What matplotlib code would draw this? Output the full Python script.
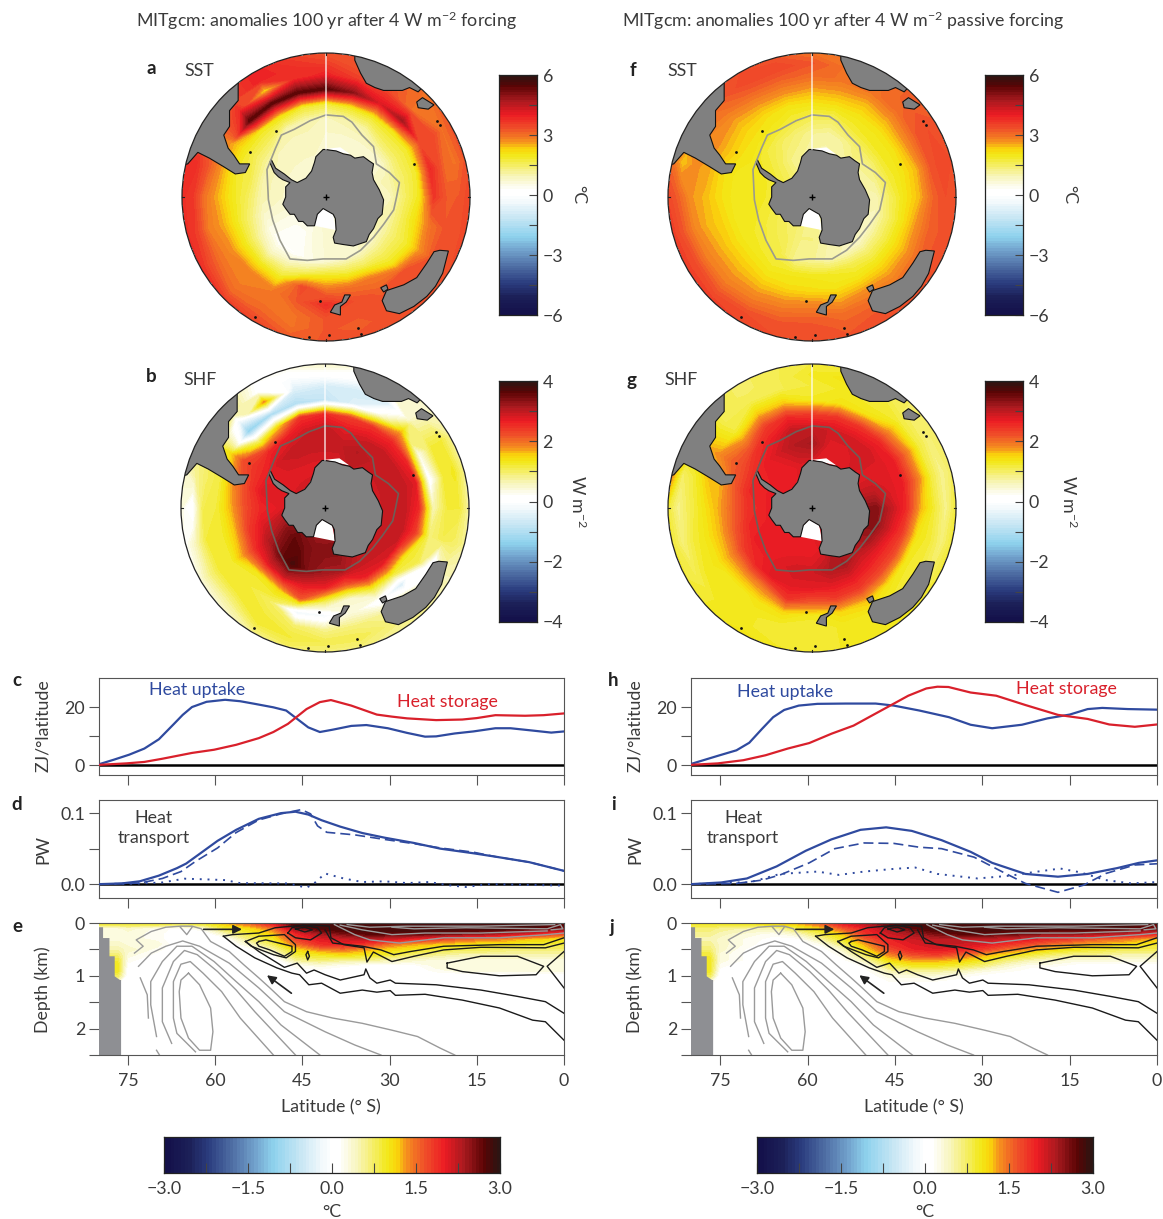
import numpy as np
import matplotlib
matplotlib.use("Agg")
import matplotlib.pyplot as plt
from matplotlib.colors import LinearSegmentedColormap
from matplotlib.patches import Circle, Polygon

plt.rcParams['font.family'] = ['Lato', 'DejaVu Sans']
plt.rcParams['mathtext.fontset'] = 'custom'
plt.rcParams['mathtext.rm'] = 'Lato'
plt.rcParams['mathtext.default'] = 'regular'

# ------------------------------ line data (latitude, value)
c_up_lat = [80,77.4,74.8,72.2,69.7,67.1,65.6,64,61.5,58.3,55.7,53.2,50,47.8,45.9,44,42,39.8,36.6,34,30.3,27,23.9,22,18.8,15.6,11.8,9.2,5.4,2.2,0]
c_up_val = [.3,1.9,3.6,5.7,8.9,14.2,17.3,20,21.8,22.5,22,21.1,19.9,18.8,15.9,13,11.4,12.2,13.5,13.8,12.7,11.1,9.8,9.9,10.9,11.6,12.7,12.7,11.9,11.2,11.6]
c_st_lat = [80,75.3,72.2,69.1,64,60.2,56.4,52.5,50,47.5,44.3,42,40.1,36.6,32.2,29.6,27,22,17.5,15,11.8,6.7,3.5,0]
c_st_val = [.1,.6,1.1,2.2,4.2,5.3,7,9.3,11.4,14.2,19.3,21.7,22.4,20.5,17.4,16.7,16.1,15.5,15.7,16.2,17.2,17,17.2,17.8]

d_so_lat = [80,76.1,73,69.7,66.6,65,62.8,59.6,56.4,52.5,48.7,46.2,44,41.7,38.5,34.7,30.9,25.8,21.3,15.6,11.8,6,0]
d_so_val = [0,.001,.004,.012,.0225,.029,.042,.061,.0765,.092,.1,.102,.098,.09,.081,.072,.0655,.058,.05,.0435,.0387,.031,.0187]
d_da_lat = [80,73,69.1,65.9,63.4,59.6,56.4,52.5,48.7,45.2,43.6,42.4,40.8,36,30.9,25.8,21.3,15.6,11.8,6,0]
d_da_val = [0,.0015,.008,.0177,.032,.051,.0727,.0904,.099,.105,.099,.082,.073,.0694,.063,.057,.051,.045,.0387,.031,.0187]
d_do_lat = [80,73,69.1,65.3,61.5,58.3,55.7,47.4,44.3,43,41.1,37.9,34.7,30.9,27,23.2,20,16.9,13,0]
d_do_val = [0,.001,.0024,.0077,.0067,.0057,.0014,.001,-.005,.001,.015,.008,.003,.004,.0015,.003,-.0014,-.004,0,-.002]

h_up_lat = [80,75.4,72.2,70,67.8,65.9,64,61.5,58.3,53.4,48.3,45.2,40.8,35.7,32,28.3,23.2,18.8,15,11.9,9.4,5,0]
h_up_val = [.4,3.2,5.1,7.7,12.5,16.5,19,20.5,21.1,21.2,21.2,20.5,18.8,16.5,13.9,12.7,13.9,16.1,17.4,19.3,19.7,19.3,19.1]
h_st_lat = [80,75.4,71,67.2,63.4,59.7,55.9,52.1,49,45.8,42.7,39.6,37.7,35.8,32,27.6,22.6,17,11.9,8.2,3.8,0]
h_st_val = [.1,.6,1.7,3.4,5.7,7.6,10.8,13.6,17,20.5,23.9,26.4,27,26.9,25,23.9,20.7,17.3,15.9,14,13.2,14]

i_so_lat = [80,74.8,70.4,65.3,60.3,55.9,50.9,46.5,42.1,37,32,28.3,22.6,17,11.9,6.9,3.1,0]
i_so_val = [0,.0024,.008,.025,.047,.063,.0765,.08,.075,.062,.0455,.03,.0144,.0105,.0144,.0225,.03,.0335]
i_da_lat = [80,72.2,67.8,64.7,59.7,55.3,50.3,45.2,40.8,37,31.4,26.4,22.6,17,12.6,8.8,3.8,0]
i_da_val = [0,.001,.0057,.013,.03,.05,.058,.0574,.052,.05,.038,.0167,.001,-.0115,-.0014,.015,.027,.0287]
i_do_lat = [80,69.7,64.7,58.3,54.6,50.3,45.2,41.5,37.7,30.8,25.1,21.4,16.6,13.2,8.8,4.4,0]
i_do_val = [0,.003,.0144,.0177,.013,.0177,.0215,.0234,.0144,.008,.012,.0167,.022,.0167,.0057,.001,.003]

lat_ticks = [75, 60, 45, 30, 15, 0]

# ------------------------------ polar fields: columns are the radii, rows the bearing
map_radii = [.3,.45,.55,.65,.75,.85,.93,1.0]
map_bearings = list(range(0, 360, 15))
sst_a = [[.8,.8,.9,1.8,5.5,4.0,3.6,3.3],[.8,.8,1.0,2.0,5.0,3.6,3.3,3.3],[.8,.8,1.1,2.0,4.2,3.5,3.3,3.2],
 [.8,.8,1.5,2.0,4.8,3.0,3,3],[.8,.8,1.5,1.9,3.4,3.5,3,3.3],[.8,1,1.5,1.9,3.9,3.1,3,3.3],
 [.8,.9,1.5,2,3.7,3.2,3.3,3.5],[.8,1,1.6,2.2,3,3.3,3.3,3.5],[.8,1,1.5,1.9,2.7,3.3,3.3,3.4],
 [.8,.9,1.5,2,3.4,3.3,3.3,3.4],[.8,.8,1.6,2.9,3.2,3.4,3.4,3.4],[.8,.8,1.8,3,3.4,3.3,3.2,3.4],
 [.7,.7,2,3,3.8,3.3,3.3,3.3],[.6,.5,1.6,3.5,3.3,3,3,3.2],[.4,.3,1.1,2,2.9,3,3.2,3.5],
 [.4,.3,.9,2,2.9,2.9,3.1,3.6],[.5,.5,1.2,2,2.7,3,3.4,3.8],[.7,.8,1.4,2,2.6,2.9,3.6,3.8],
 [.8,1,1.6,2,2.5,3,3.7,3.8],[.8,1,1.7,1.9,2.6,3.3,3.8,3.8],[.8,1,1.5,2,2.6,3,3,3],
 [.8,.9,1.5,2,5.5,3.8,3.5,3.5],[.8,.9,1,2.2,5.5,2.2,4,4],[.8,.9,1,1.9,5.5,3.8,3.8,3.6]]
shf_b = [[2.8,3,3,2.6,-.8,-.6,.1,.5],[2.8,3,2.8,2.4,-.5,-.6,0,.3],[3,3.1,2.9,2.5,.3,-.6,.5,.8],
 [3,3,3,2.6,1.6,.6,.5,.5],[2.8,3,3,2.6,.3,1.2,1.2,.8],[2.8,3,3,2.8,0,1.2,1.3,.8],
 [2.8,3,3,2.6,.6,1.2,1.2,.7],[2.8,3,3,2.4,.9,1.1,1,.8],[3,3,2.9,1.3,1.1,-.5,.6,.6],
 [3,3,2.8,1.3,-.6,.8,.8,.8],[3.2,3,2.7,1.2,0,.8,.9,.8],[3.4,3.2,2.2,.5,.4,.9,1.1,.9],
 [3.4,3.2,2.7,1.0,-.2,.8,1.1,.9],[3.4,3.4,2.8,2.2,-.3,1,1.2,1],[3.5,3.8,3,1.5,1,1.2,1.2,.8],
 [3.6,3.5,2.8,1.3,1.2,1.2,.8,.5],[3.4,3.1,2.6,1.8,1.2,1.2,.8,.4],[3.1,2.8,2.4,1.6,1.2,1.2,.6,.2],
 [2.8,2.6,2.3,1.7,1.2,1.1,-.1,.4],[2.8,2.8,2.4,1.9,1.2,1,.8,.5],[2.8,2.7,2.5,2.3,1.5,1.2,1,1],
 [2.8,2.9,2.6,1.0,-1.4,-.2,1,1],[2.8,3,2.7,1.5,-1.2,1.8,.1,.2],[2.8,3,2.9,2.5,-1,-.5,-.1,.3]]
sst_f = [[1,1.2,1.6,2.1,2.6,3.1,3.3,3.0],[1,1.1,1.5,2.1,2.6,3,3,3.0],[1,1.2,1.8,2.1,2.5,3,3,3],
 [1.1,1.4,1.9,2.1,2.6,3.1,3.2,3.2],[1,1.3,1.9,2.1,2.7,3.3,3.4,3.3],[1,1.2,1.8,2.1,2.5,3.3,3.5,3.4],
 [1,1,1.6,2.1,2.5,3.2,3.4,3.4],[1,.9,1.5,2.1,2.7,3.2,3.3,3.4],[.9,.9,1.5,2.1,2.6,3.1,3.3,3.3],
 [.9,.8,1.5,2.1,2.6,3,3.3,3.3],[1,.9,1.7,2.1,2.7,3.1,3.3,3.3],[1.1,1,1.9,2.1,2.6,3.1,3.2,3.3],
 [1.3,1.2,2,2.2,2.8,3.2,3.4,3.3],[1.3,1.2,2,2.2,2.7,3.1,3.4,3.4],[1.5,1.7,1.9,2.2,2.6,3,3.4,3.5],
 [1.6,1.8,2,2.3,2.6,2.9,3.3,3.6],[1.7,1.9,2,2.3,2.6,2.9,3.4,3.6],[1.8,2,2,2.3,2.5,2.8,3.3,3.6],
 [1.9,2,2,2.2,2.5,2.7,3.2,3.5],[1.9,2,2,2.2,2.6,2.7,2.4,3.0],[1.8,2,2.1,2.4,2.7,2.8,2.8,2.8],
 [1.6,1.8,2.1,2.3,2.6,3,3.2,3.2],[1.3,1.6,2,2.2,2.7,3.2,3.5,3.4],[1.2,1.4,1.8,2.1,2.7,3.2,3.5,3.3]]
shf_g = [[2.8,3.2,3,2.4,1.3,1.2,1.3,1.2],[2.8,2.8,2.9,2.5,1.4,1.3,1.4,1.2],[2.8,2.8,2.9,2.5,1.4,1.2,1.2,1.2],
 [2.8,2.9,2.9,2.6,1.8,1.2,1,1],[2.8,2.8,2.8,2.7,2.0,1.2,.9,1],[3,3,2.8,2.7,2.0,1.2,.8,1],
 [3.3,3.4,3,2.6,1.7,1.2,.8,1.2],[3.4,3.4,2.9,2.4,1.4,1.2,.9,1.2],[3.3,3.2,2.7,2.3,1.3,1.2,1,1.2],
 [3.2,3,2.7,2.3,1.4,1.2,1.2,1.3],[3.1,3.2,2.8,2.4,1.6,1.3,1.3,1.3],[2.8,3.1,2.8,2.4,1.5,1.3,1.3,1.3],
 [2.7,2.9,2.8,2.2,1.3,1.2,1.2,1.2],[2.7,2.9,2.8,2.5,1.5,1.2,1.2,1.3],[2.7,2.8,2.8,1.9,1.4,1.3,1.3,1.4],
 [2.7,2.7,2.6,1.8,1.3,1.3,1.3,1.3],[2.7,2.7,2.4,1.8,1.4,1.3,1.1,1.2],[2.7,2.6,2.2,1.7,1.4,1.2,.9,1.2],
 [2.7,2.5,2.1,1.7,1.4,1.1,.8,1.2],[2.7,2.6,2.2,1.7,1.6,1.2,1.0,1.9],[2.7,2.6,2.3,2.1,1.8,1.7,1.7,1.7],
 [2.7,2.7,2.5,1.9,1.2,1.1,1.1,1.1],[2.7,2.9,2.7,2.4,1.6,1.1,1,1],[2.8,3.1,3,2.6,1.6,1.1,1.1,1.1]]

# ------------------------------ map outlines, in units of the map radius
land_antarctica = [(0,.33),(.03,.325),(.07,.32),(.12,.30),(.17,.29),(.20,.27),(.26,.28),(.30,.25),(.33,.23),(.32,.17),(.33,.12),(.37,.05),(.40,-.02),(.39,-.12),(.36,-.15),(.33,-.22),(.30,-.26),(.28,-.31),(.19,-.34),
 (.12,-.33),(.06,-.32),(.05,-.28),(.07,-.23),(.065,-.15),(.05,-.12),(-.02,-.08),(-.06,-.12),(-.07,-.16),(-.08,-.20),(-.13,-.20),(-.16,-.17),(-.19,-.17),(-.22,-.12),(-.25,-.12),(-.28,-.08),(-.30,-.05),
 (-.28,.0),(-.28,.07),(-.25,.10),(-.30,.12),(-.33,.14),(-.36,.17),(-.39,.24),(-.38,.26),(-.35,.20),(-.29,.16),(-.24,.12),(-.20,.10),(-.14,.13),(-.10,.18),(-.08,.24),(-.07,.28),(-.02,.33)]
land_samerica = [(-.61,.78),(-.61,.67),(-.67,.60),(-.67,.49),(-.71,.43),(-.68,.34),(-.64,.29),(-.60,.23),(-.53,.23),(-.56,.17),(-.63,.16),(-.71,.21),
 (-.81,.27),(-.89,.31),(-.96,.23),(-1.1,.2),(-1.1,1.0),(-.61,1.0)]
land_africa = [(.20,.95),(.24,.86),(.28,.79),(.34,.76),(.40,.74),(.53,.74),(.58,.76),(.64,.73),(.75,.85),(.4,1.1),(.2,1.05)]
land_madagascar = [(.63,.66),(.67,.69),(.75,.64),(.71,.61),(.64,.62)]
land_australia = [(.79,-.37),(.85,-.375),(.81,-.53),(.76,-.62),(.70,-.69),(.61,-.76),(.51,-.81),(.42,-.79),(.39,-.72),(.42,-.65),(.54,-.61),(.63,-.56),(.70,-.46),(.75,-.38)]
land_tasmania = [(.38,-.63),(.42,-.61),(.43,-.64),(.40,-.66)]
land_newzealand = [(.13,-.68),(.17,-.68),(.14,-.73),(.10,-.76),(.10,-.82),(.03,-.80),(.06,-.75),(.11,-.73)]
ice_ross = [(-.02,-.08),(.05,-.12),(.07,-.23),(.02,-.22),(-.08,-.20),(-.07,-.13)]
ice_weddell = [(-.16,.12),(-.10,.15),(-.09,.20),(-.13,.14)]
ice_north = [(0,.335),(.17,.295),(.1,.345)]
islands_x = [-.04,.22,.24,.02,-.12,.61,-.53,-.35,.77,.79,-.49]
islands_y = [-.72,-.91,-.95,-.96,-.97,.23,.31,.46,.53,.50,-.83]
sea_ice_edge = [(0,.57),(.12,.56),(.18,.52),(.25,.43),(.33,.35),(.35,.23),(.44,.17),(.51,.10),(.49,0),(.47,-.09),(.40,-.19),(.33,-.28),(.24,-.37),
 (.14,-.43),(-.02,-.43),(-.13,-.44),(-.25,-.43),(-.32,-.30),(-.37,-.16),(-.40,-.02),(-.41,.19),(-.35,.34),(-.31,.43),(-.22,.47),(-.11,.53),(0,.57)]

# ------------------------------ section panels e and j
sec_lat = [76.8,75,70,66,62,58,54,50,46,42,38,34,30,26,22,18,14,10,6,2,0]
sec_depth = [.02,.1,.2,.3,.4,.5,.6,.7,.8,.9,1.0,1.2]
sec_e = [[.9,.9,.9,.8,.9,1.2,1.5,2.0,2.9,2.9,2.9,2.9,2.9,2.9,2.9,2.9,2.9,2.9,2.9,2.8,2.8],
 [.3,.4,.2,.1,.3,.9,1.1,1.5,2.5,2.8,2.9,2.9,2.9,2.9,2.9,2.9,2.9,2.9,2.8,2.7,2.6],
 [.3,.3,.2,0,0,.5,.9,1.2,2.0,2.4,2.6,2.75,2.75,2.75,2.7,2.6,2.5,2.3,2.1,1.8,1.7],
 [.3,.3,.2,0,0,.1,.7,1.0,1.8,2.1,2.2,2.3,2.2,2.0,1.8,1.6,1.5,1.4,1.2,1.1,1.0],
 [.4,.3,.3,0,0,0,.4,.8,1.5,1.9,2.0,1.8,1.5,1.3,1.2,1.1,1,1,.9,.9,.9],
 [.5,.4,.2,0,0,0,.1,.5,1.1,1.4,1.5,1.3,1.1,1,.9,.8,.8,.7,.7,.7,.7],
 [.7,.3,.1,0,0,0,0,.2,.9,1.0,1.1,1.0,.9,.7,.6,.5,.5,.5,.5,.5,.5],
 [.9,.2,0,0,0,0,0,0,.6,.7,.6,.6,.5,.4,.3,.3,.3,.3,.3,.3,.3],
 [1,.1,0,0,0,0,0,0,.2,.3,.2,.1,.1,.1,.3,.3,.3,.3,.3,.3,.3],
 [1,0,0,0,0,0,0,0,.1,.1,0,0,0,0,.2,.3,.3,.3,.3,.3,.3],
 [.8,0,0,0,0,0,0,0,0,0,0,0,0,0,0,0,0,0,0,0,0],
 [0,0,0,0,0,0,0,0,0,0,0,0,0,0,0,0,0,0,0,0,0]]
sec_j = [[1.0,1.0,1.0,1.1,1.2,1.5,2.0,2.3,2.7,2.9,2.9,2.9,2.9,2.9,2.9,2.9,2.9,2.9,2.9,2.8,2.7],
 [.7,.6,.5,.5,.8,1.1,1.6,2.0,2.4,2.7,2.9,2.9,2.9,2.9,2.9,2.9,2.9,2.85,2.8,2.7,2.6],
 [.6,.5,.3,.2,.4,.8,1.2,1.9,2.2,2.4,2.6,2.75,2.75,2.7,2.6,2.5,2.5,2.4,2.3,2.1,2],
 [.5,.4,.2,.1,.1,.5,1.0,1.6,2.0,2.2,2.3,2.3,2.3,2.2,2.1,1.9,1.8,1.6,1.5,1.3,1.2],
 [.6,.4,.2,0,0,.2,.7,1.3,1.9,2.1,2.2,2.2,2.1,1.9,1.7,1.5,1.3,1.2,1.1,1,1],
 [.7,.4,.1,0,0,0,.4,1.1,1.7,2,2.1,2,1.8,1.5,1.3,1.1,1,.9,.8,.8,.8],
 [.9,.3,.1,0,0,0,.2,.8,1.4,1.7,1.8,1.6,1.3,1.1,.9,.7,.6,.6,.5,.5,.5],
 [1,.3,.1,0,0,0,.1,.5,1.1,1.3,1.3,1.2,1,.7,.5,.4,.3,.3,.3,.3,.3],
 [1,.2,0,0,0,0,0,.2,.8,1,1,.9,.7,.4,.2,.2,.1,.1,.1,.1,.1],
 [1,.1,0,0,0,0,0,.1,.5,.6,.6,.5,.3,.2,.1,0,0,0,0,0,0],
 [.8,0,0,0,0,0,0,0,.3,.3,.3,.2,.1,0,0,0,0,0,0,0,0],
 [0,0,0,0,0,0,0,0,0,0,0,0,0,0,0,0,0,0,0,0,0]]
seafloor_lat = [80,80,79.3,79.3,78.2,78.2,77.3,77.3,76.4,76.2,76.2,80]
seafloor_depth = [2.5,.08,.08,.285,.285,.63,.63,1.01,1.08,1.08,2.5,2.5]

grey_lines = [
 [(73.9,.57),(72.4,.44),(73.6,.32),(71,.16),(68.5,.08),(65.9,.06),(64,.06),(62.4,.11),(60.8,.35),(57.6,.54),(55.1,.79),(52.5,1.04),(50.6,1.23),(48.1,1.49),(44.3,1.68),(39.8,1.80),(34.7,1.90),(29.6,2.03),(25.2,2.15),(21.3,2.37),(18.8,2.5)],
 [(66,.08),(64.9,.22),(64,.08)],
 [(73.2,.82),(71,.57),(68.5,.44),(65.6,.34),(62.7,.44),(57.6,.76),(52.5,1.23),(48.1,1.68),(41.1,2.06),(36,2.31),(31.5,2.5)],
 [(70.1,2.15),(71.1,1.55),(71.1,1.11),(69.1,.73),(66.6,.44),(64,.44),(60.2,.73),(56.4,1.11),(52.5,1.49),(48.7,1.93),(42,2.5)],
 [(67.5,2.28),(69.1,1.87),(69.1,1.23),(67.2,.73),(65.3,.52),(63.1,.60),(59.6,.92),(56.4,1.27),(53.2,1.68),(46.2,2.5)],
 [(63.4,2.44),(66.6,2.09),(67.2,1.80),(67.2,1.11),(65.9,.78),(64.3,.73),(62.1,.95),(58.9,1.30),(55.7,1.80),(50,2.5)],
 [(64.6,.95),(65.9,1.08),(66.2,1.30),(65.9,1.80),(64.6,2.18),(62.7,2.41),(60.8,2.41),(60.4,2.06),(60.8,1.61),(62.7,1.17),(64.6,.95)],
 [(72.9,1.04),(71.7,1.36),(71.5,1.80)],
 [(70.1,2.41),(69.6,2.5)],
 [(39.5,.03),(36,.22),(33.4,.32),(28.3,.38),(20.7,.28),(11.1,.28),(2.9,.22),(0,.19)],
 [(38.5,.04),(34.7,.13),(29.6,.22),(23.9,.19),(14.3,.19),(2.9,.15)],
 [(29.6,.08),(25.8,.11),(16.9,.09),(2.9,.11),(.6,.03),(.2,.11),(2.2,.13)],
 [(37.3,.03),(33.4,.08),(27,.06),(14.3,.06),(1.6,.03)],
]
black_lines = [
 [(58.6,.25),(56.4,.44),(53.2,.66),(49.4,.85),(46.8,.95),(45.5,.98),(43.9,1.17),(41.7,1.14),(38.5,1.33),(34.7,1.27),(32.2,1.31),(29.9,1.28),(29,1.37),(23.9,1.35),(17.5,1.46),(11.1,1.61),(5.4,1.84),(3.2,1.87),(0,2.22)],
 [(54.8,.35),(52.5,.54),(48.1,.84),(45.9,.76),(44.3,.95),(43,.89),(41.1,.98),(38.5,1.08),(34.4,.98),(34.1,.87),(33.4,1.04),(32.2,1.14),(29.9,1.08),(29,1.14),(22,1.17),(14.3,1.27),(8,1.39),(3.2,1.49),(0,1.71)],
 [(58.6,.25),(57,.22),(52.5,.19),(49.7,.09),(46.8,.06),(43,.04),(40.4,.06),(40.1,.28),(37.9,.41),(34.4,.47),(33.9,.74),(32.8,.55),(29.6,.73),(25.8,.63),(20.7,.51),(14.3,.46),(3.2,.47),(0,.38)],
 [(41.1,.13),(39.8,.38),(34.7,.44),(31.5,.51),(29.3,.60),(26.4,.54),(20.7,.44),(11.1,.41),(3.5,.41),(0,.28)],
 [(52.5,.35),(51.3,.32),(46.8,.44),(46.8,.54),(48.1,.63),(50.6,.51),(52.5,.44),(52.9,.38),(52.5,.35)],
 [(44.1,.54),(43.8,.63),(44.1,.70),(44.4,.60),(44.1,.54)],
 [(54.8,.35),(52.5,.25),(48.1,.22),(46.2,.41),(46.2,.54),(47.8,.66),(50,.60),(53.8,.44),(54.8,.35)],
 [(47.5,.19),(46.8,.09),(44.9,.04),(42.4,.09),(41.7,.19),(43.6,.32),(46.2,.28),(47.5,.19)],
 [(46.2,.11),(44.6,.08),(43.3,.13),(44.6,.17),(46.2,.11)],
 [(20.1,.76),(14.3,.63),(8,.63),(3.5,.82),(4.8,.98),(11.1,1),(17.5,.92),(20.1,.85),(20.1,.76)],
 [(0,.54),(2.9,.82),(0,1.23)],
]
arrow_east = [(62,.12),(55.4,.12)]
arrow_north = [(46.9,1.33),(51.1,.99)]

# ------------------------------ style
W, H = 1163, 1219
TXT = '#3a3a3a'
SP = '#555555'
BLUE = '#2f4a9f'
RED = '#d9202b'
GREY = '#808080'
FS = 12.75

stops = [(0,'#14104a'),(.07,'#1c2058'),(.13,'#2c3e80'),(.2,'#4f6fa5'),(.26,'#6e9cc8'),(.325,'#8fd3ee'),(.40,'#c4e5f4'),
         (.47,'#f2f9fc'),(.5,'#ffffff'),(.524,'#ffffff'),(.58,'#f8f5b8'),(.67,'#f3e817'),(.695,'#fad60c'),(.73,'#f58a20'),(.78,'#f0502a'),
         (.84,'#ed1c24'),(.90,'#a81a1f'),(.96,'#5a0505'),(1,'#2e1412')]
CMAP = LinearSegmentedColormap.from_list('anom', stops, N=256)

fig = plt.figure(figsize=(W/100, H/100), dpi=100)


def pxax(x0, y0, x1, y1):
    return fig.add_axes([x0/W, 1-y1/H, (x1-x0)/W, (y1-y0)/H])


def ftext(x, y, s, **kw):
    kw.setdefault('color', TXT)
    kw.setdefault('fontsize', FS)
    kw.setdefault('ha', 'center')
    kw.setdefault('va', 'center')
    return fig.text(x/W, 1-y/H, s, **kw)


def draw_map(cx, cy, field, vmax, ice_colour):
    R = 144
    ax = pxax(cx-R-1, cy-R-1, cx+R+1, cy+R+1)
    ax.set_xlim(-145/144, 145/144)
    ax.set_ylim(-145/144, 145/144)
    ax.axis('off')
    disc = Circle((0, 0), 1, transform=ax.transData)
    b = np.radians(map_bearings + [360])
    r = np.array([0.0] + map_radii)
    z = np.array(field, float)
    z = np.vstack([z, z[:1]])
    z = np.hstack([np.full((z.shape[0], 1), z[:, 0].mean()), z])
    BB, RR = np.meshgrid(b, r, indexing='ij')
    cs = ax.contourf(RR*np.sin(BB), RR*np.cos(BB), z, levels=np.linspace(-vmax, vmax, 98),
                     cmap=CMAP, extend='both', antialiased=False)
    cs.set_clip_path(disc)
    for poly in (ice_ross, ice_weddell, ice_north):
        ax.add_patch(Polygon(poly, closed=True, fc='white', ec='none', zorder=3))
    for poly in (land_antarctica, land_samerica, land_africa, land_madagascar, land_australia, land_tasmania, land_newzealand):
        p = Polygon(poly, closed=True, fc=GREY, ec='#111111', lw=0.8, zorder=4)
        ax.add_patch(p)
        p.set_clip_path(disc)
    ax.scatter(islands_x, islands_y, s=4, c='#111111', marker='o', lw=0, zorder=5)
    ex, ey = zip(*sea_ice_edge)
    ax.plot(ex, ey, color=ice_colour, lw=1.2, zorder=5)
    ax.plot([0, 0], [.335, 1], color='white', lw=1.1, alpha=.8, zorder=6)
    ax.plot([0], [0], marker='+', ms=5, mew=1, color='black', zorder=7)
    ax.add_patch(Circle((0, 0), 1, fc='none', ec='#222222', lw=0.9, zorder=8, clip_on=False))
    for dx, dy in ((0, 1), (1, 0), (0, -1), (-1, 0)):
        ax.plot([dx, dx*.985], [dy, dy*.985], color='#222222', lw=.8, zorder=8)


def gradient_bar(ax, vmin, vmax, vertical):
    g = np.linspace(vmin, vmax, 97)
    g = g[:, None] if vertical else g[None, :]
    ext = [0, 1, vmin, vmax] if vertical else [vmin, vmax, 0, 1]
    ax.imshow(g, origin='lower', extent=ext, aspect='auto', cmap=CMAP, vmin=vmin, vmax=vmax, interpolation='nearest')
    for s in ax.spines.values():
        s.set_color('#222222')
        s.set_linewidth(.9)


def vbar(x0, y0, x1, y1, vmax, labels, minor, unit, xu, ylab):
    ax = pxax(x0, y0, x1, y1)
    gradient_bar(ax, -vmax, vmax, True)
    ax.set_xticks([])
    ax.yaxis.tick_right()
    vals = [float(v) for v in labels]
    ax.set_yticks(vals)
    ax.set_yticks(minor, minor=True)
    ax.set_yticklabels([('\u2212' + str(abs(int(v)))) if v < 0 else str(int(v)) for v in vals], fontsize=FS, color=TXT)
    ax.tick_params(axis='y', which='both', direction='in', length=6, width=.8, color='#444444', pad=4)
    ftext(xu, ylab, unit, rotation=-90)


def hbar(x0, x1):
    ax = pxax(x0, 1137, x1, 1173)
    gradient_bar(ax, -3, 3, False)
    ax.set_yticks([])
    ax.set_xticks([-3, -1.5, 0, 1.5, 3])
    ax.set_xticks([-2.25, -.75, .75, 2.25], minor=True)
    ax.set_xticklabels(['\u22123.0', '\u22121.5', '0.0', '1.5', '3.0'], fontsize=FS, color=TXT)
    ax.tick_params(axis='x', which='both', direction='in', length=7, width=.8, color='#444444', pad=6)
    ftext((x0+x1)/2, 1212, '\u00b0C')


def style_line_ax(ax, y_range):
    ax.set_xlim(80, 0)
    ax.set_ylim(*y_range)
    for s in ax.spines.values():
        s.set_color(SP)
        s.set_linewidth(.8)
    ax.set_xticks(lat_ticks)
    ax.set_xticklabels([])
    ax.tick_params(axis='both', which='both', direction='out', length=7, width=.8, color=SP,
                   labelcolor=TXT, labelsize=FS, pad=3)


def panel_c(x0, x1, up, st, label_up, label_st):
    ax = pxax(x0, 678, x1, 775)
    style_line_ax(ax, (-3.4, 30))
    ax.set_yticks([0, 20])
    ax.set_yticks([10], minor=True)
    ax.axhline(0, color='black', lw=1.8, zorder=2)
    ax.plot(up[0], up[1], color=BLUE, lw=1.6, zorder=3)
    ax.plot(st[0], st[1], color=RED, lw=1.6, zorder=3)
    ftext(label_up[0], label_up[1], 'Heat uptake', color=BLUE)
    ftext(label_st[0], label_st[1], 'Heat storage', color=RED)


def panel_d(x0, x1, so, da, do, label_x):
    ax = pxax(x0, 800, x1, 898)
    style_line_ax(ax, (-.0195, .1185))
    ax.set_yticks([0, .1])
    ax.set_yticklabels(['0.0', '0.1'])
    ax.set_yticks([.05], minor=True)
    ax.axhline(0, color='black', lw=1.8, zorder=2)
    ax.plot(so[0], so[1], color=BLUE, lw=1.6, zorder=3)
    ax.plot(da[0], da[1], color=BLUE, lw=1.2, ls=(0, (6, 3)), zorder=3)
    ax.plot(do[0], do[1], color=BLUE, lw=1.4, ls=(0, (1, 3)), zorder=3)
    ftext(label_x, 828, 'Heat\ntransport', linespacing=1.25)


def panel_e(x0, x1, field):
    ax = pxax(x0, 923, x1, 1055)
    ax.set_xlim(80, 0)
    ax.set_ylim(2.5, 0)
    lat = np.array([80.0] + sec_lat)
    dep = np.array([0.0] + sec_depth + [2.5])
    z = np.array(field, float)
    z = np.vstack([z[:1], z, z[-1:]])
    z = np.hstack([z[:, :1], z])
    ax.contourf(lat, dep, z, levels=np.linspace(-3, 3, 62), cmap=CMAP, extend='both', antialiased=False, zorder=1)
    ax.fill(seafloor_lat, seafloor_depth, color='#8e8f93', lw=0, zorder=2)
    for line in grey_lines:
        xs, ys = zip(*line)
        ax.plot(xs, ys, color='#9a9a9a', lw=1.0, zorder=3)
    for line in black_lines:
        xs, ys = zip(*line)
        ax.plot(xs, ys, color='#1a1a1a', lw=1.0, zorder=4)
    for a in (arrow_east, arrow_north):
        ax.annotate('', xy=a[1], xytext=a[0], zorder=5,
                    arrowprops=dict(arrowstyle='-|>', color='#222222', lw=1.2, mutation_scale=13, shrinkA=0, shrinkB=0))
    for k, s in ax.spines.items():
        s.set_color(SP)
        s.set_linewidth(.8)
    ax.spines['left'].set_visible(False)
    ax.set_xticks(lat_ticks)
    ax.set_yticks([0, 1, 2])
    ax.set_yticks([.5, 1.5, 2.5], minor=True)
    ax.tick_params(axis='both', which='both', direction='out', length=7, width=.8, color=SP,
                   labelcolor=TXT, labelsize=FS, pad=6)
    ax.tick_params(axis='y', pad=3)


# ------------------------------ assemble
draw_map(326, 197, sst_a, 6, '#9b9b8e')
draw_map(325, 508, shf_b, 4, '#6f5e58')
draw_map(812, 197, sst_f, 6, '#9b9b8e')
draw_map(812, 508, shf_g, 4, '#6f5e58')

temp_major = [-6, -3, 0, 3, 6]
temp_minor = [-4.5, -1.5, 1.5, 4.5]
flux_major = [-4, -2, 0, 2, 4]
flux_minor = [-3, -1, 1, 3]
vbar(499, 75, 537, 315, 6, temp_major, temp_minor, '\u00b0C', 578, 195)
vbar(499, 381, 537, 622, 4, flux_major, flux_minor, 'W m$^{-2}$', 578, 502)
vbar(985, 75, 1023, 315, 6, temp_major, temp_minor, '\u00b0C', 1069, 195)
vbar(985, 381, 1023, 622, 4, flux_major, flux_minor, 'W m$^{-2}$', 1069, 502)

panel_c(99, 564, (c_up_lat, c_up_val), (c_st_lat, c_st_val), (197, 690), (447, 702))
panel_d(99, 564, (d_so_lat, d_so_val), (d_da_lat, d_da_val), (d_do_lat, d_do_val), 154)
panel_e(99, 564, sec_e)
panel_c(691, 1157, (h_up_lat, h_up_val), (h_st_lat, h_st_val), (785, 692), (1066, 689))
panel_d(691, 1157, (i_so_lat, i_so_val), (i_da_lat, i_da_val), (i_do_lat, i_do_val), 743)
panel_e(691, 1157, sec_j)
hbar(164, 500)
hbar(757, 1093)

ftext(326, 21, 'MITgcm: anomalies 100 yr after 4 W m$^{-2}$ forcing')
ftext(843, 21, 'MITgcm: anomalies 100 yr after 4 W m$^{-2}$ passive forcing')
for x, y, s in ((151, 68, 'a'), (151, 377, 'b'), (633, 70, 'f'), (631, 380, 'g'), (17, 681, 'c'), (17, 804, 'd'),
                (17, 927, 'e'), (613, 681, 'h'), (614, 804, 'i'), (612, 927, 'j')):
    ftext(x, y, s, fontweight='bold', fontsize=13.5, color='#222222')
for x, y, s in ((199, 71, 'SST'), (682, 71, 'SST'), (200, 380, 'SHF'), (681, 380, 'SHF')):
    ftext(x, y, s)
for x in (43, 635):
    ftext(x, 726, 'ZJ/\u00b0latitude', rotation=90)
    ftext(x, 850, 'PW', rotation=90)
    ftext(x, 990, 'Depth (km)', rotation=90)
ftext(331, 1107, 'Latitude (\u00b0 S)')
ftext(914, 1107, 'Latitude (\u00b0 S)')

fig.savefig('out.png', dpi=100)
